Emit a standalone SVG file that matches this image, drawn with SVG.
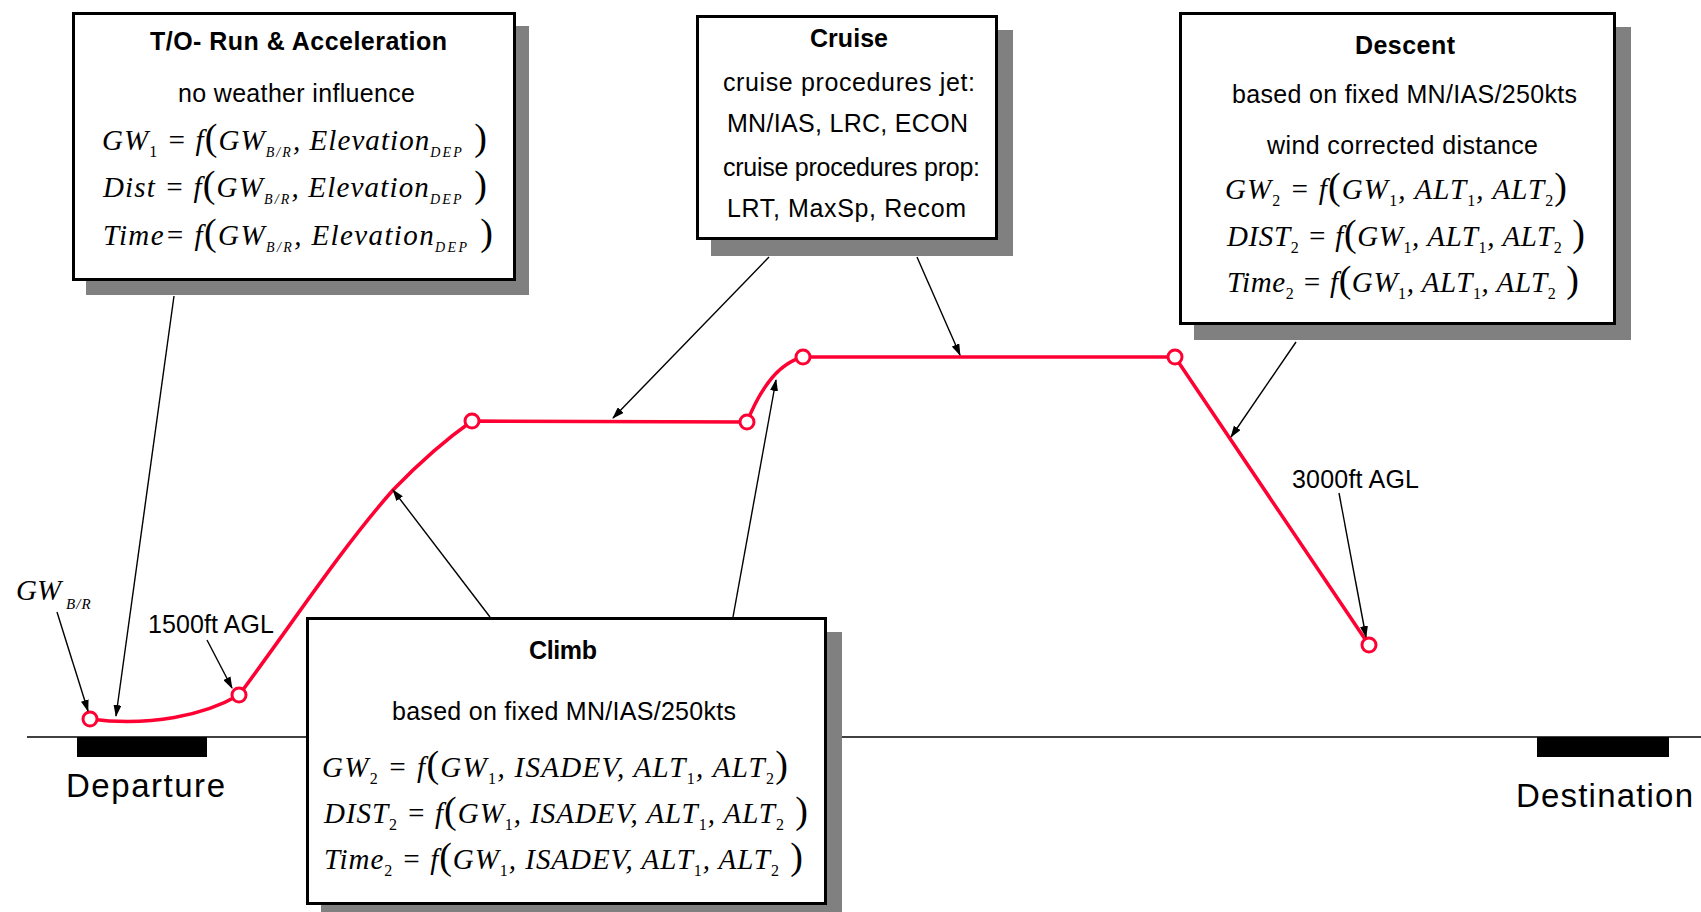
<svg xmlns="http://www.w3.org/2000/svg" width="1701" height="912" viewBox="0 0 1701 912">
<style>
.bg{fill:#fff}
.box{fill:#fff;stroke:#000;stroke-width:3}
.shadow{fill:#808080}
.t{font-family:"Liberation Sans",Arial,sans-serif;font-size:25px;fill:#000}
.tb{font-weight:bold}
.big{font-size:33px}
.eq{font-family:"Liberation Serif","Times New Roman",serif;font-style:italic;font-size:29px;fill:#000}
.sb{font-size:16px;font-style:normal}
.ss{font-size:14px;font-style:italic;letter-spacing:1px}
.p{font-size:38px;font-style:normal}
.flight{fill:none;stroke:#FF0033;stroke-width:3.5;stroke-linejoin:round}
.pt{fill:#fff;stroke:#FF0033;stroke-width:3}
.ground{stroke:#000;stroke-width:1.5}
.conn line{stroke:#000;stroke-width:1.4;marker-end:url(#ah)}
</style>
<defs>
<marker id="ah" markerUnits="userSpaceOnUse" markerWidth="12" markerHeight="8" refX="11" refY="4" orient="auto"><path d="M0,0 L12,4 L0,8 z" fill="#000"/></marker>
</defs>
<rect class="bg" x="0" y="0" width="1701" height="912"/>

<g id="ground">
<line class="ground" x1="27" y1="737" x2="1701" y2="737"/>
<rect x="77" y="737" width="130" height="20" fill="#000"/>
<rect x="1537" y="737" width="132" height="20" fill="#000"/>
<text class="t big" x="66" y="797" textLength="159" lengthAdjust="spacing">Departure</text>
<text class="t big" x="1516" y="807" textLength="177" lengthAdjust="spacing">Destination</text>
</g>

<g id="flight-path">
<path class="flight" d="M90,719 C150,727 205,715 239,695 C290,627 340,550 393,490 C420,462 445,440 472,421 L747,422 Q770,365 803,357 L1175,357 L1369,645"/>
<circle class="pt" cx="90" cy="719" r="7"/>
<circle class="pt" cx="239" cy="695" r="7"/>
<circle class="pt" cx="472" cy="421" r="7"/>
<circle class="pt" cx="747" cy="422" r="7"/>
<circle class="pt" cx="803" cy="357" r="7"/>
<circle class="pt" cx="1175" cy="357" r="7"/>
<circle class="pt" cx="1369" cy="645" r="7"/>
</g>

<g id="labels">
<text class="eq" x="16" y="600">GW<tspan class="ss" dx="5" dy="9" style="font-size:15px">B/R</tspan></text>
<text class="t" x="148" y="633" textLength="126" lengthAdjust="spacing">1500ft AGL</text>
<text class="t" x="1292" y="488" textLength="127" lengthAdjust="spacing">3000ft AGL</text>
</g>

<g id="connectors" class="conn">
<line x1="174" y1="296" x2="116" y2="716"/>
<line x1="57" y1="612" x2="88" y2="711"/>
<line x1="207" y1="640" x2="232" y2="688"/>
<line x1="490" y1="617" x2="393" y2="490"/>
<line x1="733" y1="617" x2="776" y2="380"/>
<line x1="769" y1="257" x2="613" y2="418"/>
<line x1="917" y1="257" x2="960" y2="355"/>
<line x1="1296" y1="342" x2="1231" y2="437"/>
<line x1="1339" y1="493" x2="1366" y2="637"/>
</g>

<g id="node-takeoff">
<rect class="shadow" x="86" y="26" width="443" height="269"/>
<rect class="box" x="73.5" y="13.5" width="441" height="266"/>
<text class="t tb" x="150" y="50" textLength="297" lengthAdjust="spacing">T/O- Run &amp; Acceleration</text>
<text class="t" x="178" y="102" textLength="237" lengthAdjust="spacing">no weather influence</text>
<text class="eq" x="102" y="150" textLength="385" lengthAdjust="spacing">GW<tspan class="sb" dy="7">1</tspan><tspan dy="-7"> = </tspan>f<tspan class="p">(</tspan>GW<tspan class="ss" dy="7">B/R</tspan><tspan dy="-7">, Elevation</tspan><tspan class="ss" dy="7">DEP</tspan><tspan class="p" dy="-7"> )</tspan></text>
<text class="eq" x="103" y="197" textLength="384" lengthAdjust="spacing">Dist = f<tspan class="p">(</tspan>GW<tspan class="ss" dy="7">B/R</tspan><tspan dy="-7">, Elevation</tspan><tspan class="ss" dy="7">DEP</tspan><tspan class="p" dy="-7"> )</tspan></text>
<text class="eq" x="103" y="245" textLength="390" lengthAdjust="spacing">Time= f<tspan class="p">(</tspan>GW<tspan class="ss" dy="7">B/R</tspan><tspan dy="-7">, Elevation</tspan><tspan class="ss" dy="7">DEP</tspan><tspan class="p" dy="-7"> )</tspan></text>
</g>

<g id="node-cruise">
<rect class="shadow" x="711" y="30" width="302" height="226"/>
<rect class="box" x="697.5" y="16.5" width="299" height="222"/>
<text class="t tb" x="810" y="47" textLength="78" lengthAdjust="spacing">Cruise</text>
<text class="t" x="723" y="91" textLength="252" lengthAdjust="spacing">cruise procedures jet:</text>
<text class="t" x="727" y="132" textLength="241" lengthAdjust="spacing">MN/IAS, LRC, ECON</text>
<text class="t" x="723" y="176" textLength="257" lengthAdjust="spacing">cruise procedures prop:</text>
<text class="t" x="727" y="217" textLength="239" lengthAdjust="spacing">LRT, MaxSp, Recom</text>
</g>

<g id="node-descent">
<rect class="shadow" x="1194" y="27" width="437" height="313"/>
<rect class="box" x="1180.5" y="13.5" width="434" height="310"/>
<text class="t tb" x="1355" y="54" textLength="100" lengthAdjust="spacing">Descent</text>
<text class="t" x="1232" y="103" textLength="345" lengthAdjust="spacing">based on fixed MN/IAS/250kts</text>
<text class="t" x="1267" y="154" textLength="271" lengthAdjust="spacing">wind corrected distance</text>
<text class="eq" x="1225" y="199" textLength="342" lengthAdjust="spacing">GW<tspan class="sb" dy="7">2</tspan><tspan dy="-7"> = </tspan>f<tspan class="p">(</tspan>GW<tspan class="sb" dy="7">1</tspan><tspan dy="-7">, ALT</tspan><tspan class="sb" dy="7">1</tspan><tspan dy="-7">, ALT</tspan><tspan class="sb" dy="7">2</tspan><tspan class="p" dy="-7">)</tspan></text>
<text class="eq" x="1227" y="246" textLength="358" lengthAdjust="spacing">DIST<tspan class="sb" dy="7">2</tspan><tspan dy="-7"> = </tspan>f<tspan class="p">(</tspan>GW<tspan class="sb" dy="7">1</tspan><tspan dy="-7">, ALT</tspan><tspan class="sb" dy="7">1</tspan><tspan dy="-7">, ALT</tspan><tspan class="sb" dy="7">2</tspan><tspan class="p" dy="-7"> )</tspan></text>
<text class="eq" x="1227" y="292" textLength="352" lengthAdjust="spacing">Time<tspan class="sb" dy="7">2</tspan><tspan dy="-7"> = </tspan>f<tspan class="p">(</tspan>GW<tspan class="sb" dy="7">1</tspan><tspan dy="-7">, ALT</tspan><tspan class="sb" dy="7">1</tspan><tspan dy="-7">, ALT</tspan><tspan class="sb" dy="7">2</tspan><tspan class="p" dy="-7"> )</tspan></text>
</g>

<g id="node-climb">
<rect class="shadow" x="321" y="632" width="521" height="290"/>
<rect class="box" x="307.5" y="618.5" width="518" height="285"/>
<text class="t tb" x="529" y="659" textLength="68" lengthAdjust="spacing">Climb</text>
<text class="t" x="392" y="720" textLength="344" lengthAdjust="spacing">based on fixed MN/IAS/250kts</text>
<text class="eq" x="322" y="777" textLength="466" lengthAdjust="spacing">GW<tspan class="sb" dy="7">2</tspan><tspan dy="-7"> = </tspan>f<tspan class="p">(</tspan>GW<tspan class="sb" dy="7">1</tspan><tspan dy="-7">, ISADEV, ALT</tspan><tspan class="sb" dy="7">1</tspan><tspan dy="-7">, ALT</tspan><tspan class="sb" dy="7">2</tspan><tspan class="p" dy="-7">)</tspan></text>
<text class="eq" x="324" y="823" textLength="484" lengthAdjust="spacing">DIST<tspan class="sb" dy="7">2</tspan><tspan dy="-7"> = </tspan>f<tspan class="p">(</tspan>GW<tspan class="sb" dy="7">1</tspan><tspan dy="-7">, ISADEV, ALT</tspan><tspan class="sb" dy="7">1</tspan><tspan dy="-7">, ALT</tspan><tspan class="sb" dy="7">2</tspan><tspan class="p" dy="-7"> )</tspan></text>
<text class="eq" x="324" y="869" textLength="479" lengthAdjust="spacing">Time<tspan class="sb" dy="7">2</tspan><tspan dy="-7"> = </tspan>f<tspan class="p">(</tspan>GW<tspan class="sb" dy="7">1</tspan><tspan dy="-7">, ISADEV, ALT</tspan><tspan class="sb" dy="7">1</tspan><tspan dy="-7">, ALT</tspan><tspan class="sb" dy="7">2</tspan><tspan class="p" dy="-7"> )</tspan></text>
</g>
</svg>
